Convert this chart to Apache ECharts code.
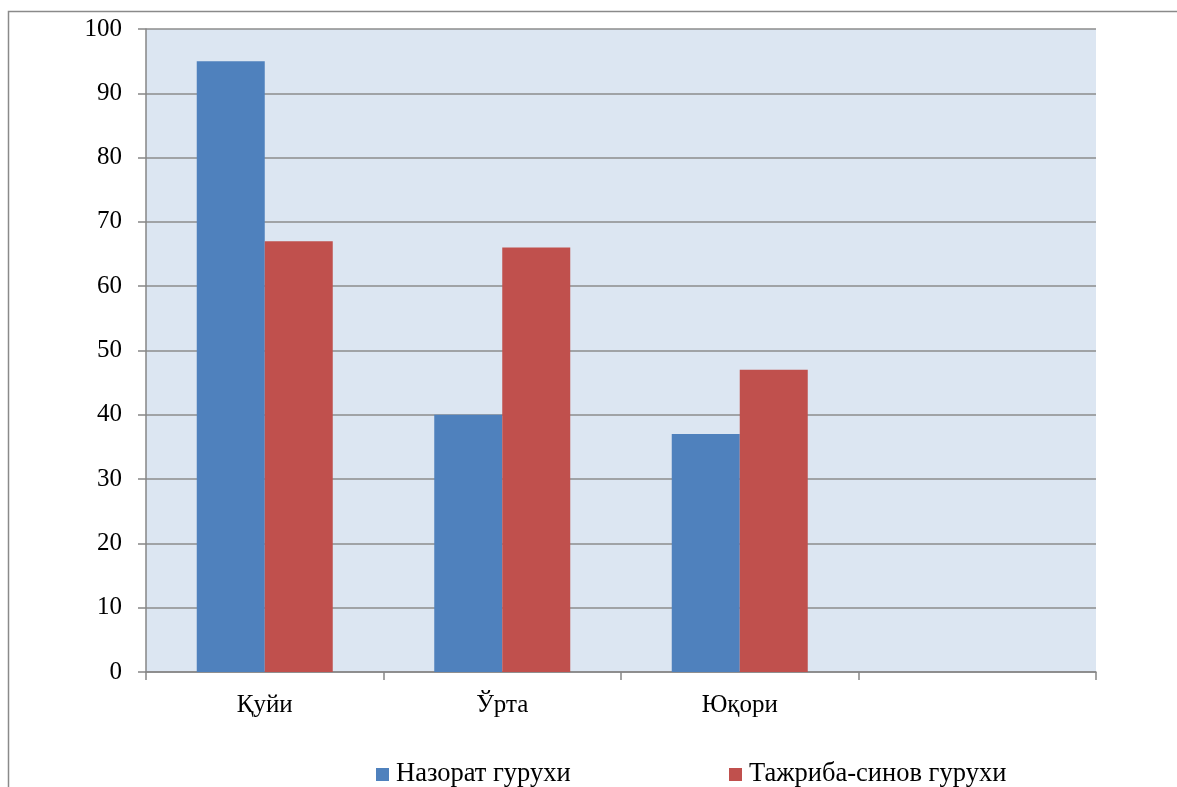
<!DOCTYPE html>
<html>
<head>
<meta charset="utf-8">
<script src="https://cdn.jsdelivr.net/npm/echarts@6/dist/echarts.min.js"></script>
<style>
  html, body { margin: 0; padding: 0; background: #fff; }
  #main { width: 1177px; height: 787px; }
</style>
</head>
<body>
<div id="main"></div>
<script>
// data
var categories = ['Қуйи', 'Ўрта', 'Юқори', '']
var controlGroup = [95, 40, 37, null]
var experimentGroup = [67, 66, 47, null]
var seriesNames = ['Назорат гурухи', 'Тажриба-синов гурухи']

var colorSet = {
  blue: '#4f81bd',
  red: '#c0504d',
  grid: '#8c8c8c',
  axis: '#868686',
  plot: '#dce6f2',
}

var font = 'Liberation Serif, Times New Roman, serif'

var chart = echarts.init(document.getElementById('main'), null, { renderer: 'canvas' })

// one legend per series so each item sits where the original put it
function legendFor(name, left) {
  return {
    data: [name],
    left: left,
    top: 756,
    itemWidth: 13,
    itemHeight: 13,
    itemGap: 0,
    icon: 'rect',
    textStyle: { fontFamily: font, fontSize: 26.5, color: '#000', padding: [0, 0, 0, 2] },
  }
}

var option = {
  animation: false,
  backgroundColor: '#fff',
  textStyle: { fontFamily: font },
  graphic: [
    {
      // outer frame
      type: 'rect',
      shape: { x: 8.5, y: 11.5, width: 1300, height: 900 },
      style: { fill: 'none', stroke: '#8a8a8a', lineWidth: 1.5 },
      silent: true,
    },
  ],
  grid: {
    left: 146,
    right: 81,
    top: 29,
    bottom: 115,
    show: true,
    backgroundColor: colorSet.plot,
    borderWidth: 0,
  },
  legend: [legendFor(seriesNames[0], 371), legendFor(seriesNames[1], 724)],
  xAxis: {
    type: 'category',
    data: categories,
    axisLine: { show: true, lineStyle: { color: colorSet.axis, width: 1.5 } },
    axisTick: { show: true, length: 8, lineStyle: { color: colorSet.axis, width: 1.5 } },
    axisLabel: { fontFamily: font, fontSize: 25, color: '#000', margin: 21 },
    splitLine: { show: false },
  },
  yAxis: {
    type: 'value',
    min: 0,
    max: 100,
    interval: 10,
    axisLine: { show: true, lineStyle: { color: colorSet.axis, width: 1.5 } },
    axisTick: { show: true, length: 8, lineStyle: { color: colorSet.axis, width: 1.5 } },
    axisLabel: { fontFamily: font, fontSize: 25, color: '#000', margin: 24 },
    splitLine: { show: true, lineStyle: { color: colorSet.grid, width: 1.5 } },
  },
  series: [
    {
      name: seriesNames[0],
      type: 'bar',
      data: controlGroup,
      barWidth: 68,
      barGap: '0%',
      itemStyle: { color: colorSet.blue },
    },
    {
      name: seriesNames[1],
      type: 'bar',
      data: experimentGroup,
      barWidth: 68,
      barGap: '0%',
      itemStyle: { color: colorSet.red },
    },
  ],
}

chart.setOption(option)
</script>
</body>
</html>
